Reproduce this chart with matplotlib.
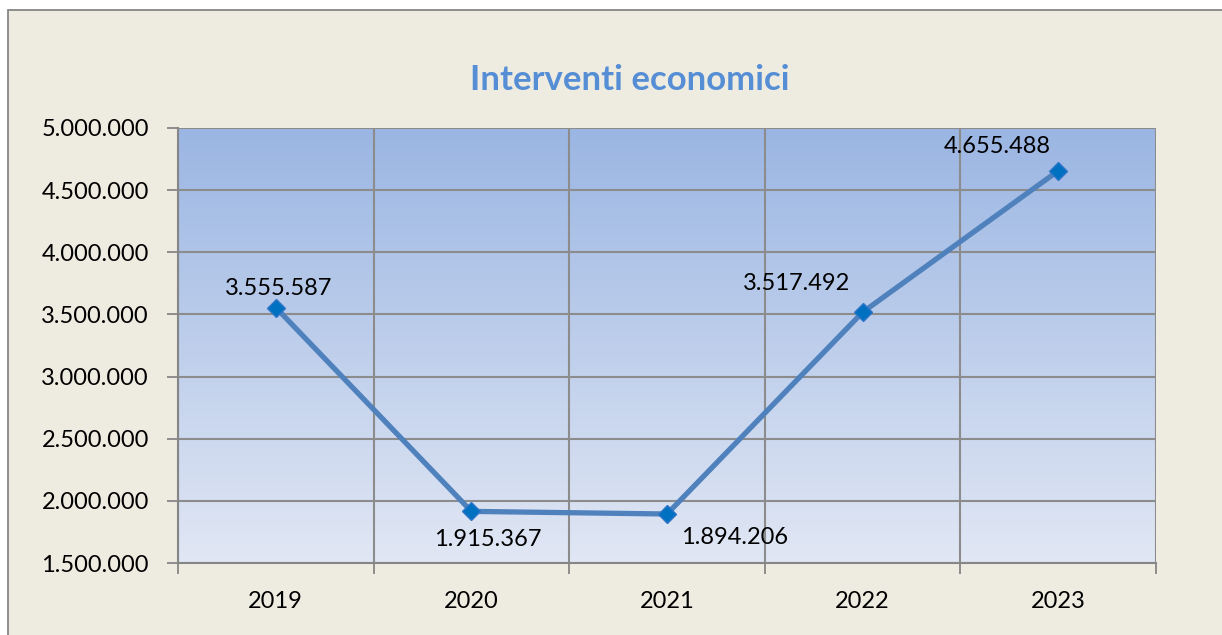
import matplotlib.pyplot as plt
import numpy as np
from matplotlib.patches import Rectangle
from matplotlib.ticker import FuncFormatter, FixedLocator

# data
anni = ["2019", "2020", "2021", "2022", "2023"]
valori = [3555587, 1915367, 1894206, 3517492, 4655488]

# label offsets in pixels (dx, dy)
offsets = [(3, 19), (16, -28), (68, -23), (-66, 29), (-61, 24)]

plt.rcParams['font.family'] = ['Lato', 'DejaVu Sans']

def fmt_it(v, pos=None):
    return f"{int(round(v)):,}".replace(",", ".")

fig = plt.figure(figsize=(12.22, 6.35), dpi=100)
fig.patch.set_facecolor("white")

# chart area frame
W, H = 1222, 635
fig.patches.append(Rectangle((8 / W, -0.01), 1.02, 1 - 10 / H + 0.01,
                             transform=fig.transFigure, facecolor="#EEECE1",
                             edgecolor="#868686", linewidth=1.3, zorder=-5))

ax = fig.add_axes([178 / W, 1 - 563 / H, (1156 - 178) / W, (563 - 128) / H])
ax.set_facecolor("none")

# gradient background
grad = np.linspace(0, 1, 256).reshape(-1, 1)
top = np.array([0x9B, 0xB6, 0xE3]) / 255
bot = np.array([0xE1, 0xE7, 0xF4]) / 255
img = top + (bot - top) * grad[..., None]
ax.imshow(img, extent=[0, 1, 0, 1], transform=ax.transAxes, aspect="auto",
          zorder=0)

x = np.arange(len(anni))
ax.plot(x, valori, color="#4F81BD", linewidth=3.8, marker="D", markersize=9,
        markerfacecolor="#0070C0", markeredgecolor="#2E75C8", zorder=3)

for xi, v, (dx, dy) in zip(x, valori, offsets):
    ax.annotate(fmt_it(v), (xi, v), xytext=(dx, dy), textcoords="offset pixels",
                ha="center", va="center", fontsize=17, color="black", zorder=4)

ax.set_xlim(-0.5, len(anni) - 0.5)
ax.set_ylim(1500000, 5000000)
ax.set_yticks(np.arange(1500000, 5000001, 500000))
ax.yaxis.set_major_formatter(FuncFormatter(fmt_it))

# category labels centered, tick marks at boundaries
ax.xaxis.set_major_locator(FixedLocator(np.arange(-0.5, len(anni), 1.0)))
ax.set_xticklabels([])
ax.xaxis.set_minor_locator(FixedLocator(x))
ax.set_xticklabels(anni, minor=True)
ax.tick_params(axis="x", which="minor", length=0, pad=20, labelsize=17)
ax.tick_params(axis="x", which="major", length=8, color="#868686", width=1.3)
ax.tick_params(axis="y", length=8, color="#868686", width=1.3, labelsize=17, pad=13)

ax.grid(True, which="major", color="#8C8C8C", linewidth=1.5, zorder=1)
ax.set_axisbelow(True)
for s in ["top", "right"]:
    ax.spines[s].set_visible(False)
for s in ["left", "bottom"]:
    ax.spines[s].set_color("#868686")
    ax.spines[s].set_linewidth(1.5)

fig.text(630 / W, 1 - 80 / H, "Interventi economici", ha="center", va="center",
         fontsize=25, fontweight="bold", color="#558ED5")

fig.savefig("out.png", dpi=100)
